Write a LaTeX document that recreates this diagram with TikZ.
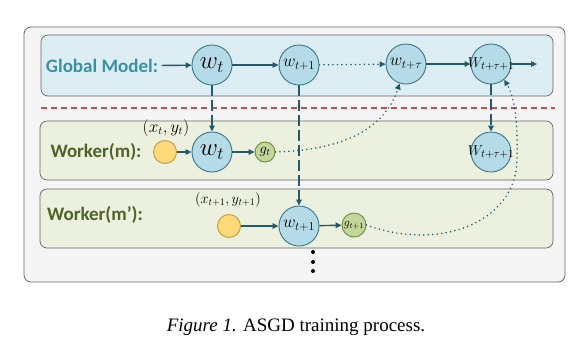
\documentclass[tikz,border=0pt]{standalone}
\usepackage{fontspec}
\setmainfont{Liberation Serif}
\setsansfont{Carlito}
\usepackage{tikz}
\usetikzlibrary{arrows.meta}

\definecolor{arrowc}{HTML}{23596A}
\definecolor{glob}{HTML}{DCEEF4}
\definecolor{work}{HTML}{EBF1DE}
\definecolor{wfill}{HTML}{B4DBE7}
\definecolor{wline}{HTML}{3C7489}
\definecolor{yfill}{HTML}{FFD97A}
\definecolor{yline}{HTML}{C49A3C}
\definecolor{gfill}{HTML}{C4D79B}
\definecolor{gline}{HTML}{6F8A3A}
\definecolor{gtext}{HTML}{3A8FA6}
\definecolor{mtext}{HTML}{4F6228}
\definecolor{redl}{HTML}{C0504D}

\begin{document}
\begin{tikzpicture}[
  x=1pt, y=-1pt,
  >={Triangle[length=6pt,width=5.5pt]},
  wnode/.style={circle, draw=wline, fill=wfill, line width=0.9pt, minimum size=40pt, inner sep=-4pt},
  ynode/.style={circle, draw=yline, fill=yfill, line width=0.9pt, minimum size=23pt, inner sep=0pt},
  gnode/.style={circle, draw=gline, fill=gfill, line width=0.9pt, minimum size=20pt, inner sep=-2pt},
  rowbox/.style={draw=black!60, line width=0.7pt, rounded corners=7pt},
  lab/.style={font=\sffamily\bfseries\fontsize{19pt}{19pt}\selectfont},
  inp/.style={font=\fontsize{16pt}{16pt}\selectfont},
  bigw/.style={font=\fontsize{26pt}{26pt}\selectfont},
  smw/.style={font=\fontsize{18pt}{18pt}\selectfont},
  flow/.style={->, draw=arrowc, line width=1.4pt},
  down/.style={->, draw=arrowc, line width=1.4pt, dash pattern=on 11pt off 4pt},
  grad/.style={->, draw=arrowc, line width=1.7pt, line cap=round, dash pattern=on 0pt off 4.5pt},
]
\useasboundingbox (0,0) rectangle (588,360);
% frames
\draw[rounded corners=7pt, draw=black!60, fill=black!4, line width=0.8pt] (24,27) rectangle (565,282);
\draw[rowbox, fill=glob] (41,35) rectangle (553,96);
\draw[rowbox, fill=work] (40,121) rectangle (553,180);
\draw[rowbox, fill=work] (40,189) rectangle (553,248);
\draw[redl, line width=1.2pt, dash pattern=on 6pt off 4pt] (41,108) -- (555,108);
% global model row
\node[lab, text=gtext] (glab) at (102,66) {Global Model:};
\node[wnode, bigw] (gw0) at (212,65) {$w_t$};
\node[wnode, smw] (gw1) at (299,65) {$w_{t+1}$};
\node[wnode, smw] (gw2) at (406,64) {$w_{t+\tau}$};
\node[wnode, font=\fontsize{15pt}{15pt}\selectfont] (gw3) at (491,64) {$W_{t+\tau+1}$};
\coordinate (gout) at (537,64);
\draw[flow] (glab) -- (gw0);
\draw[flow] (gw0) -- (gw1);
\draw[grad] (gw1) -- (gw2);
\draw[flow] (gw2) -- (gw3);
\draw[flow] (gw3) -- (gout);
% worker m
\node[lab, text=mtext] (mlab) at (96,152) {Worker(m):};
\node[ynode] (my) at (165,152) {};
\node[inp] (mxy) at (166,128) {$(x_t,y_t)$};
\node[wnode, bigw] (mw) at (212,152) {$w_t$};
\node[gnode, font=\fontsize{14pt}{14pt}\selectfont] (mg) at (265,152) {$g_t$};
\node[wnode, font=\fontsize{15pt}{15pt}\selectfont] (mw3) at (491,152) {$W_{t+\tau+1}$};
\draw[flow] (my) -- (mw);
\draw[flow] (mw) -- (mg);
% worker m'
\node[lab, text=mtext] (plab) at (95,215) {Worker(m’):};
\node[ynode] (py) at (229,226) {};
\node[inp, font=\fontsize{14pt}{14pt}\selectfont] (pxy) at (228,200) {$(x_{t+1},y_{t+1})$};
\node[wnode, smw] (pw) at (299,226) {$w_{t+1}$};
\node[gnode, minimum size=24pt, font=\fontsize{12pt}{12pt}\selectfont] (pg) at (354,225) {$g_{t+1}$};
\draw[flow] (py) -- (pw);
\draw[flow] (pw) -- (pg);
% pull from global model
\draw[down] (gw0) -- (mw);
\draw[down] (gw1) -- (pw);
\draw[down] (gw3) -- (mw3);
% push gradients
\draw[grad] (mg.east) .. controls (345,150) and (385,128) .. (gw2.-108);
\draw[grad] (pg.east) .. controls (440,252) and (516,222) .. (517,160)
  .. controls (518,118) and (514,96) .. (gw3.-50);
% more workers
\foreach \yy in {252,262,271}{\fill (313,\yy) circle (2pt);}
% caption
\node[font=\fontsize{19pt}{19pt}\selectfont] (cap) at (296,327) {\textit{Figure 1.} ASGD training process.};
\end{tikzpicture}
\end{document}
